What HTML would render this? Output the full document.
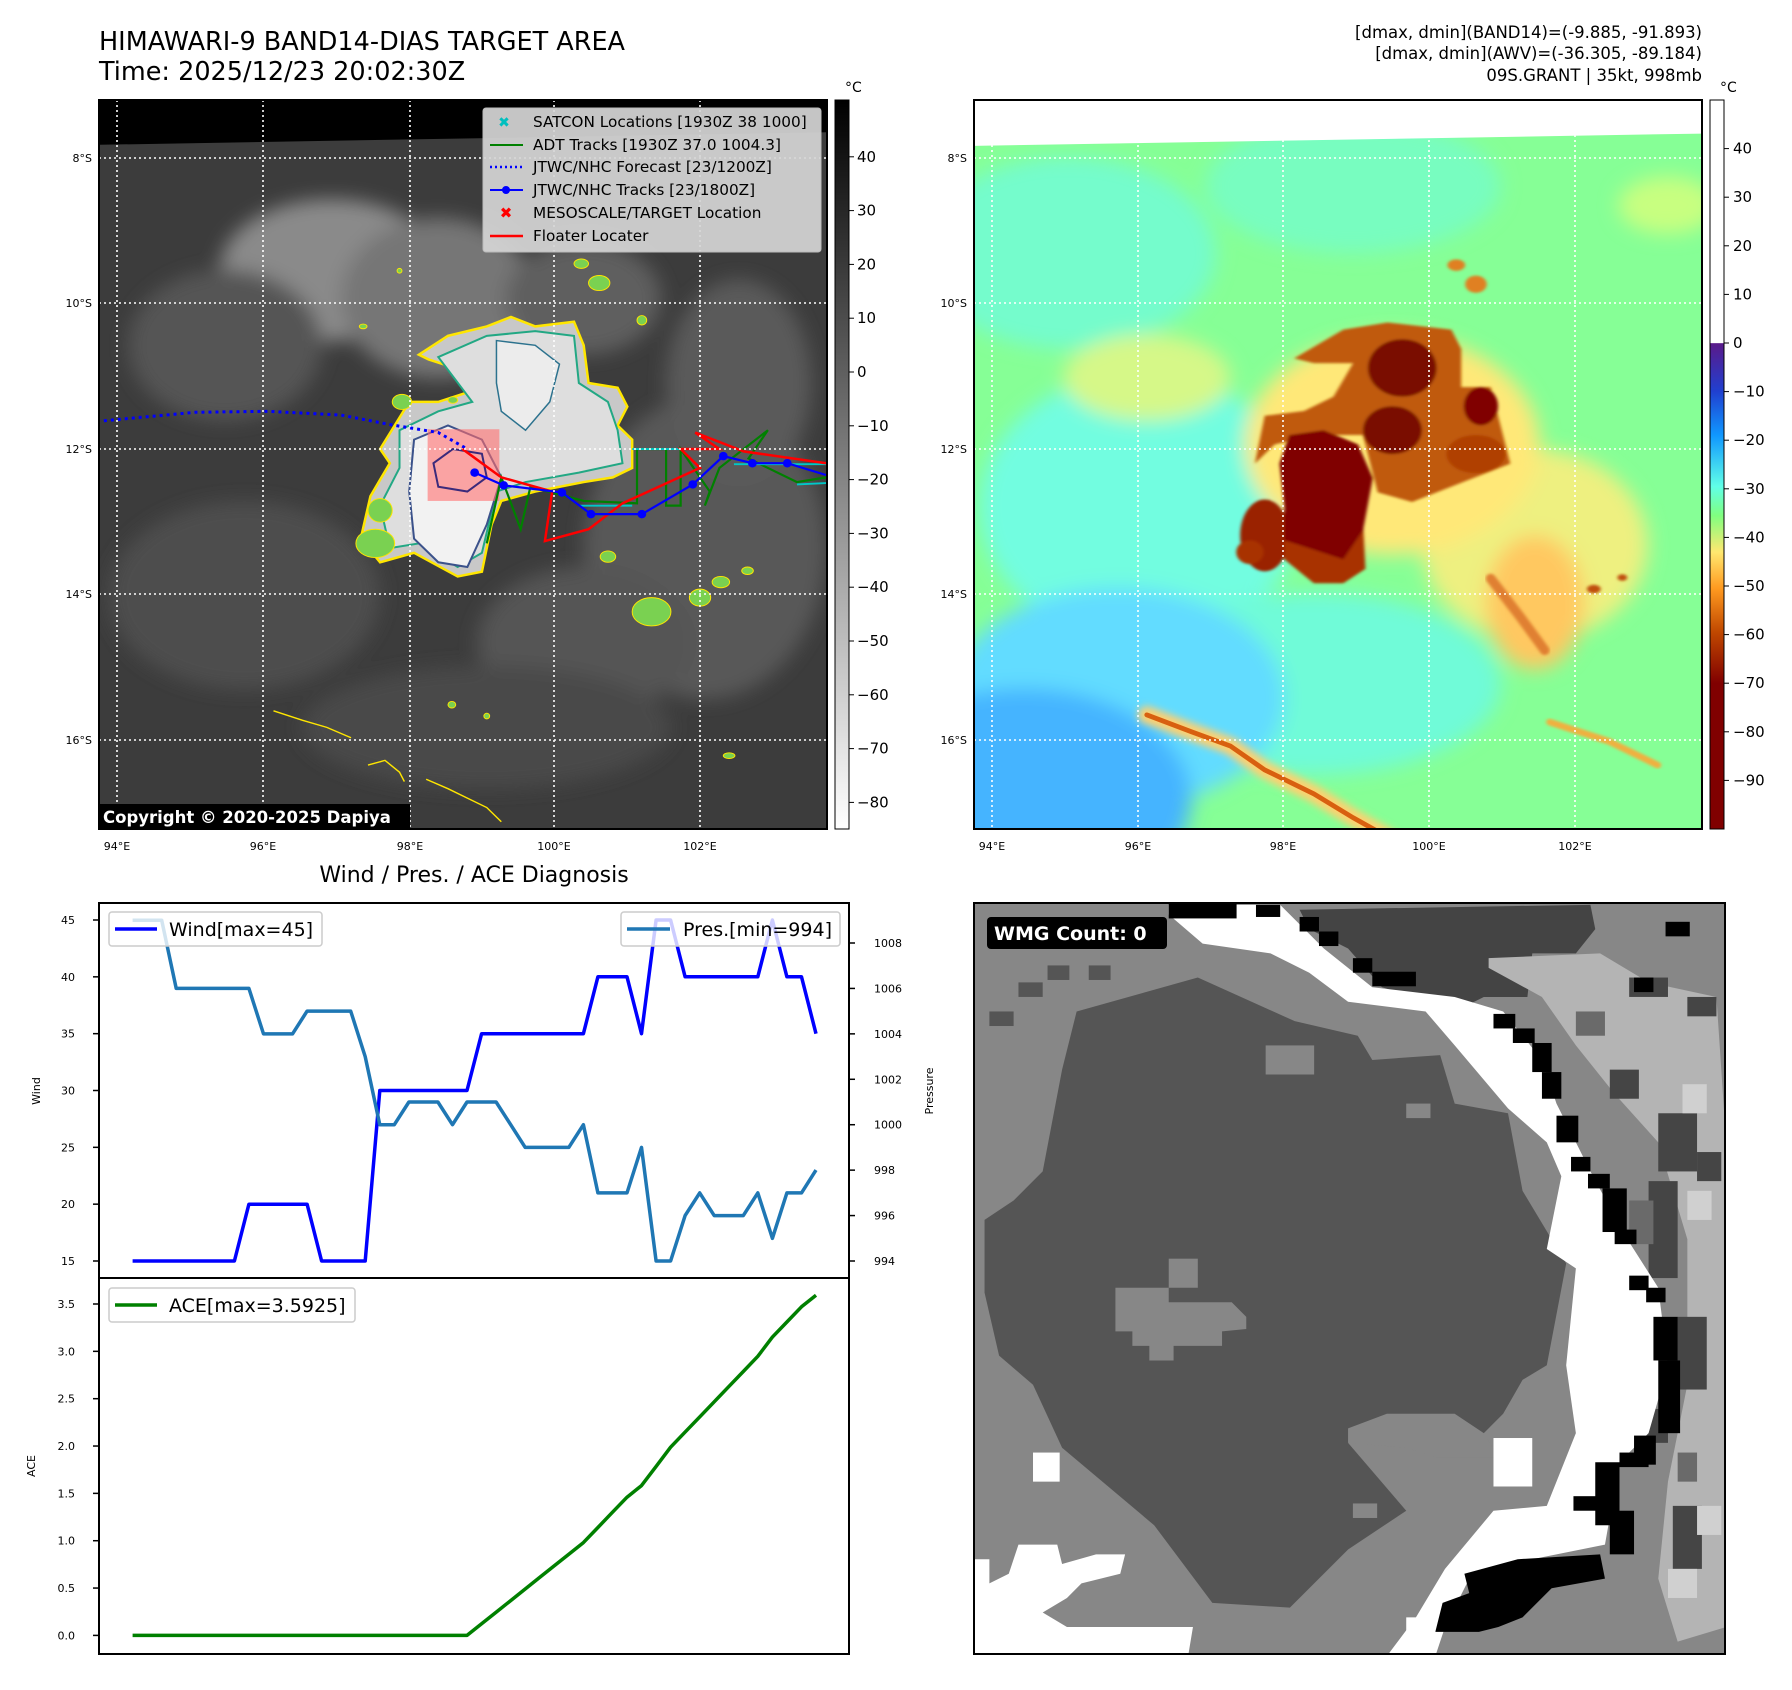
<!DOCTYPE html>
<html><head><meta charset="utf-8"><style>
html,body{margin:0;padding:0;background:#fff;}
svg{display:block;font-family:"DejaVu Sans","Liberation Sans",sans-serif;}
</style></head><body>
<svg id="fig" width="1792" height="1690" viewBox="0 0 1792 1690" xmlns="http://www.w3.org/2000/svg">
<defs>
<filter id="b8" x="-50%" y="-50%" width="200%" height="200%"><feGaussianBlur stdDeviation="8"/></filter>
<filter id="b20" x="-50%" y="-50%" width="200%" height="200%"><feGaussianBlur stdDeviation="20"/></filter>
<filter id="b3"><feGaussianBlur stdDeviation="3"/></filter>
<clipPath id="cTL"><rect x="99" y="100" width="728" height="729"/></clipPath>
<clipPath id="cTR"><rect x="974" y="100" width="728" height="729"/></clipPath>
<clipPath id="cBR"><rect x="974" y="903" width="751" height="751"/></clipPath>
<linearGradient id="gGray" x1="0" y1="0" x2="0" y2="1"><stop offset="0" stop-color="#000"/><stop offset="1" stop-color="#fff"/></linearGradient>
<linearGradient id="gCol" x1="0" y1="0" x2="0" y2="1">
<stop offset="0" stop-color="#fff"/><stop offset="0.333" stop-color="#fff"/><stop offset="0.334" stop-color="#5a1a8a"/>
<stop offset="0.4" stop-color="#2040d0"/><stop offset="0.46" stop-color="#1098ff"/><stop offset="0.53" stop-color="#60ffe8"/>
<stop offset="0.57" stop-color="#80ff80"/><stop offset="0.62" stop-color="#ffe870"/><stop offset="0.67" stop-color="#ff9a20"/>
<stop offset="0.73" stop-color="#c04800"/><stop offset="0.8" stop-color="#800000"/><stop offset="1" stop-color="#800000"/></linearGradient>
</defs>

<!-- Titles -->
<text x="99" y="50" font-size="25.5">HIMAWARI-9 BAND14-DIAS TARGET AREA</text>
<text x="99" y="80" font-size="25.5">Time: 2025/12/23 20:02:30Z</text>
<text x="1702" y="38" font-size="16.5" text-anchor="end">[dmax, dmin](BAND14)=(-9.885, -91.893)</text>
<text x="1702" y="59" font-size="16.5" text-anchor="end">[dmax, dmin](AWV)=(-36.305, -89.184)</text>
<text x="1702" y="81" font-size="16.5" text-anchor="end">09S.GRANT | 35kt, 998mb</text>

<!-- ===== Top-left IR map ===== -->
<g clip-path="url(#cTL)">
<g transform="translate(99,100) scale(0.4847,0.4717)">
<rect x="0" y="0" width="1520" height="1560" fill="#3c3c3c"/>
<g filter="url(#b20)">
<ellipse cx="480" cy="360" rx="230" ry="150" fill="#8a8a8a"/>
<ellipse cx="700" cy="420" rx="200" ry="170" fill="#767676"/>
<ellipse cx="260" cy="520" rx="200" ry="160" fill="#545454"/>
<ellipse cx="1250" cy="950" rx="250" ry="320" fill="#595959"/>
<ellipse cx="1000" cy="1150" rx="220" ry="160" fill="#555"/>
<ellipse cx="300" cy="1050" rx="280" ry="200" fill="#4d4d4d"/>
<ellipse cx="1320" cy="600" rx="150" ry="220" fill="#5a5a5a"/>
<ellipse cx="800" cy="1330" rx="380" ry="130" fill="#4a4a4a"/>
<ellipse cx="1000" cy="420" rx="160" ry="120" fill="#5e5e5e"/>
</g>
<polygon points="0,0 1520,0 1520,68 0,95" fill="#000"/>
<path d="M660,540 L720,500 L800,480 L850,460 L900,480 L980,470 L1000,520 L1010,600 L1070,610 L1090,650 L1070,690 L1100,720 L1100,780 L1060,800 L1000,810 L900,830 L830,850 L810,900 L790,1000 L740,1010 L650,960 L580,980 L540,930 L560,840 L600,770 L580,740 L610,690 L640,640 L700,640 L760,620 L770,580 L680,550 Z" fill="#c8c8c8" stroke="#ffe600" stroke-width="2.5" vector-effect="non-scaling-stroke"/>
<path d="M700,545 L800,500 L900,490 L980,500 L990,600 L1050,640 L1070,700 L1080,770 L990,790 L880,810 L820,830 L790,960 L740,990 L660,940 L600,950 L580,860 L620,780 L620,700 L700,660 L770,640 Z" fill="#dedede" stroke="#22a884" stroke-width="2" vector-effect="non-scaling-stroke"/>
<path d="M650,720 L720,690 L790,720 L830,800 L800,900 L760,990 L700,980 L650,930 L640,830 Z" fill="#f2f2f2" stroke="#3b528b" stroke-width="2" vector-effect="non-scaling-stroke"/>
<path d="M820,510 L900,520 L950,560 L930,640 L880,700 L830,660 L820,600 Z" fill="#ececec" stroke="#2c728e" stroke-width="1.5" vector-effect="non-scaling-stroke"/>
<rect x="678" y="698" width="148" height="152" fill="rgba(255,110,110,0.6)"/>
<path d="M690,770 L730,740 L790,750 L800,800 L760,830 L700,820 Z" fill="none" stroke="#3b2a7b" stroke-width="2" vector-effect="non-scaling-stroke"/>
<g fill="#7ad151" stroke="#ffe600" stroke-width="2" vector-effect="non-scaling-stroke">
<ellipse cx="995" cy="347" rx="15" ry="10"/><ellipse cx="1032" cy="388" rx="22" ry="16"/><ellipse cx="1120" cy="467" rx="10" ry="10"/>
<ellipse cx="625" cy="640" rx="20" ry="16"/><ellipse cx="730" cy="636" rx="10" ry="7"/><ellipse cx="1050" cy="968" rx="16" ry="12"/>
<ellipse cx="1283" cy="1022" rx="18" ry="12"/><ellipse cx="1338" cy="998" rx="12" ry="8"/><ellipse cx="1240" cy="1055" rx="22" ry="18"/>
<ellipse cx="1140" cy="1085" rx="40" ry="30"/><ellipse cx="545" cy="480" rx="8" ry="5"/><ellipse cx="620" cy="362" rx="5" ry="5"/>
<ellipse cx="728" cy="1282" rx="8" ry="7"/><ellipse cx="800" cy="1306" rx="6" ry="6"/><ellipse cx="1300" cy="1390" rx="12" ry="6"/>
<ellipse cx="570" cy="940" rx="40" ry="30"/><ellipse cx="580" cy="870" rx="25" ry="25"/>
</g>
<g fill="none" stroke="#ffe600" stroke-width="3" vector-effect="non-scaling-stroke">
<polyline points="360,1295 420,1315 470,1330 520,1352"/>
<polyline points="555,1410 590,1400 620,1425 630,1445"/>
<polyline points="675,1440 720,1460 760,1480 800,1500 830,1530"/>
</g>
<polyline points="10,680 200,662 350,660 500,668 600,688 700,705 760,740" fill="none" stroke="#0000ff" stroke-width="3" stroke-dasharray="3,4" vector-effect="non-scaling-stroke"/>
<polyline points="800,940 830,800 870,910 890,820 1000,850 1110,855 1110,740 1170,740 1170,860 1200,860 1200,740 1260,830 1250,860 1280,780 1380,700 1340,760 1440,810 1500,800" fill="none" stroke="#008000" stroke-width="2.2" vector-effect="non-scaling-stroke"/>
<g stroke="#00c8c8" stroke-width="4" vector-effect="non-scaling-stroke" fill="none">
<polyline points="1100,740 1280,740"/><polyline points="1310,772 1500,772"/><polyline points="1440,815 1500,812"/><polyline points="990,860 1100,860"/>
</g>
<polyline points="750,740 830,800 935,830 920,935 1010,910 1080,855 1240,780 1200,740 1280,740 1230,705 1330,745 1500,770" fill="none" stroke="#ff0000" stroke-width="2.5" vector-effect="non-scaling-stroke"/>
<polyline points="775,790 835,817 955,832 1015,878 1120,878 1225,815 1288,755 1348,770 1420,770 1500,795" fill="none" stroke="#0000ff" stroke-width="2.2" vector-effect="non-scaling-stroke"/>
<g fill="#0000ff"><ellipse cx="775" cy="790" rx="9" ry="9"/><ellipse cx="835" cy="817" rx="9" ry="9"/><ellipse cx="955" cy="832" rx="9" ry="9"/><ellipse cx="1015" cy="878" rx="9" ry="9"/><ellipse cx="1120" cy="878" rx="9" ry="9"/><ellipse cx="1225" cy="815" rx="9" ry="9"/><ellipse cx="1288" cy="755" rx="9" ry="9"/><ellipse cx="1348" cy="770" rx="9" ry="9"/><ellipse cx="1420" cy="770" rx="9" ry="9"/></g>
</g>
</g>
<g stroke="#fff" stroke-width="1.6" stroke-dasharray="2,3">
<line x1="117" y1="100" x2="117" y2="829"/><line x1="263" y1="100" x2="263" y2="829"/><line x1="410" y1="100" x2="410" y2="829"/><line x1="554" y1="100" x2="554" y2="829"/><line x1="700" y1="100" x2="700" y2="829"/>
<line x1="99" y1="158" x2="827" y2="158"/><line x1="99" y1="303" x2="827" y2="303"/><line x1="99" y1="449" x2="827" y2="449"/><line x1="99" y1="594" x2="827" y2="594"/><line x1="99" y1="740" x2="827" y2="740"/>
</g>
<rect x="99" y="804" width="311" height="25" fill="#000"/>
<text x="103" y="823" font-size="16.5" font-weight="bold" fill="#fff">Copyright © 2020-2025 Dapiya</text>
<rect x="99" y="100" width="728" height="729" fill="none" stroke="#000" stroke-width="2"/>
<!-- legend -->
<g>
<rect x="483" y="108" width="338" height="144" rx="3" fill="#d6d6d6" fill-opacity="0.92" stroke="#bbb"/>
<text x="504" y="127" font-size="14" fill="#00bfbf" font-weight="bold" text-anchor="middle">✖</text>
<text x="533" y="127" font-size="15.3">SATCON Locations [1930Z 38 1000]</text>
<line x1="490" y1="145" x2="523" y2="145" stroke="#008000" stroke-width="2"/>
<text x="533" y="150" font-size="15.3">ADT Tracks [1930Z 37.0 1004.3]</text>
<line x1="490" y1="167" x2="523" y2="167" stroke="#0000ff" stroke-width="2.5" stroke-dasharray="2,3"/>
<text x="533" y="172" font-size="15.3">JTWC/NHC Forecast [23/1200Z]</text>
<line x1="490" y1="190" x2="523" y2="190" stroke="#0000ff" stroke-width="2"/><circle cx="506" cy="190" r="4" fill="#0000ff"/>
<text x="533" y="195" font-size="15.3">JTWC/NHC Tracks [23/1800Z]</text>
<text x="506" y="218" font-size="15" fill="#ff0000" font-weight="bold" text-anchor="middle">✖</text>
<text x="533" y="218" font-size="15.3">MESOSCALE/TARGET Location</text>
<line x1="490" y1="236" x2="523" y2="236" stroke="#ff0000" stroke-width="2.5"/>
<text x="533" y="241" font-size="15.3">Floater Locater</text>
</g>
<!-- gray colorbar -->
<rect x="835" y="100" width="14" height="729" fill="url(#gGray)" stroke="#000" stroke-width="1"/>
<text x="845" y="92" font-size="14">°C</text>
<g id="cbL" font-size="15"></g>

<!-- ===== Top-right AWV map ===== -->
<g clip-path="url(#cTR)">
<g transform="translate(970,100) scale(0.4912,0.4785)">
<rect x="0" y="0" width="1520" height="1560" fill="#86ff96"/>
<g filter="url(#b20)">
<ellipse cx="200" cy="320" rx="300" ry="200" fill="#74fccc"/>
<ellipse cx="350" cy="850" rx="330" ry="280" fill="#72fde0"/>
<ellipse cx="700" cy="1220" rx="380" ry="190" fill="#70fbd8"/>
<ellipse cx="780" cy="180" rx="300" ry="140" fill="#78fdc0"/>
<ellipse cx="300" cy="1250" rx="340" ry="230" fill="#62dcff"/>
<ellipse cx="110" cy="1460" rx="340" ry="230" fill="#44b4ff"/>
<ellipse cx="1420" cy="220" rx="100" ry="60" fill="#c8ff80"/>
<ellipse cx="360" cy="580" rx="170" ry="90" fill="#d6f888"/>
<ellipse cx="1150" cy="930" rx="230" ry="200" fill="#eef080"/>
<ellipse cx="1150" cy="1050" rx="100" ry="140" fill="#ffc860"/>
<ellipse cx="860" cy="720" rx="300" ry="230" fill="#ffe878"/>
</g>
<polygon points="0,0 1500,0 1500,70 0,96" fill="#fff"/>
<g filter="url(#b3)">
<polygon points="660,540 760,480 850,465 980,480 1000,520 1000,600 1060,600 1080,680 1100,760 1000,800 900,840 830,820 800,700 700,700 620,720 580,760 600,660 680,650 740,620 780,550 700,550" fill="#c05a10"/>
<ellipse cx="880" cy="560" rx="70" ry="60" fill="#7a0a00"/>
<ellipse cx="860" cy="690" rx="60" ry="50" fill="#7a0a00"/>
<ellipse cx="1040" cy="640" rx="35" ry="40" fill="#800000"/>
<ellipse cx="1030" cy="740" rx="60" ry="40" fill="#b04000"/>
<ellipse cx="600" cy="910" rx="50" ry="75" fill="#9a2400"/>
<ellipse cx="570" cy="945" rx="28" ry="25" fill="#a83000"/>
<polygon points="640,880 720,900 800,880 805,980 760,1010 700,1010 640,960" fill="#a83000"/>
<polygon points="650,700 720,690 790,720 820,790 800,900 760,960 700,940 640,920 640,850 630,760" fill="#800000"/>
<ellipse cx="990" cy="345" rx="18" ry="12" fill="#e08020"/><ellipse cx="1030" cy="385" rx="22" ry="18" fill="#e08020"/>
<ellipse cx="1270" cy="1022" rx="14" ry="9" fill="#c05010"/><ellipse cx="1328" cy="998" rx="10" ry="7" fill="#c05010"/>
</g>
<g fill="none" stroke-linecap="round">
<polyline points="360,1285 450,1320 530,1350 600,1400 700,1450 780,1500 850,1540" stroke="#ffd070" stroke-width="36" filter="url(#b8)"/>
<polyline points="360,1285 450,1320 530,1350 600,1400 700,1450 780,1500 850,1540" stroke="#d86010" stroke-width="10"/>
<polyline points="1060,1000 1120,1080 1170,1150" stroke="#e08030" stroke-width="20" filter="url(#b3)"/>
<polyline points="1180,1300 1300,1340 1400,1390" stroke="#f0b040" stroke-width="14" filter="url(#b3)"/>
</g>
</g>
</g>
<g stroke="#fff" stroke-width="1.6" stroke-dasharray="2,3">
<line x1="992" y1="100" x2="992" y2="829"/><line x1="1138" y1="100" x2="1138" y2="829"/><line x1="1283" y1="100" x2="1283" y2="829"/><line x1="1429" y1="100" x2="1429" y2="829"/><line x1="1575" y1="100" x2="1575" y2="829"/>
<line x1="974" y1="158" x2="1702" y2="158"/><line x1="974" y1="303" x2="1702" y2="303"/><line x1="974" y1="449" x2="1702" y2="449"/><line x1="974" y1="594" x2="1702" y2="594"/><line x1="974" y1="740" x2="1702" y2="740"/>
</g>
<rect x="974" y="100" width="728" height="729" fill="none" stroke="#000" stroke-width="2"/>
<rect x="1710" y="100" width="14" height="729" fill="url(#gCol)" stroke="#000" stroke-width="1"/>
<text x="1720" y="92" font-size="14">°C</text>
<g id="cbR" font-size="15"></g>
<g id="mapTicks" font-size="11"></g>

<!-- ===== Wind / Pressure chart ===== -->
<text x="474" y="882" font-size="22" text-anchor="middle">Wind / Pres. / ACE Diagnosis</text>
<g id="windChart"></g>
<g id="aceChart"></g>
<text transform="translate(40,1091) rotate(-90)" font-size="11" text-anchor="middle">Wind</text>
<text transform="translate(933,1091) rotate(-90)" font-size="11" text-anchor="middle">Pressure</text>
<text transform="translate(35,1466) rotate(-90)" font-size="11" text-anchor="middle">ACE</text>

<!-- ===== WMG panel ===== -->
<g clip-path="url(#cBR)">
<g transform="translate(970,900) scale(0.4847)">
<rect x="0" y="0" width="1600" height="1600" fill="#878787"/>
<polygon points="680,20 1280,10 1290,60 1250,110 1160,110 1150,200 1060,200 1000,230 920,200 850,180 780,100 700,60" fill="#444"/>
<polygon points="1070,120 1300,110 1400,170 1540,200 1560,500 1560,1500 1460,1530 1420,1400 1440,1200 1480,1000 1480,700 1420,500 1330,400 1250,300 1180,200 1070,140" fill="#b4b4b4"/>
<g fill="#454545"><rect x="1420" y="440" width="80" height="120"/><rect x="1400" y="580" width="60" height="200"/><rect x="1460" y="860" width="60" height="150"/><rect x="1450" y="1250" width="60" height="130"/><rect x="1360" y="160" width="80" height="40"/><rect x="1480" y="200" width="60" height="40"/><rect x="1320" y="350" width="60" height="60"/><rect x="1500" y="520" width="50" height="60"/><rect x="1380" y="1050" width="60" height="70"/></g>
<g fill="#6a6a6a"><rect x="1360" y="620" width="50" height="90"/><rect x="1460" y="1140" width="40" height="60"/><rect x="1250" y="230" width="60" height="50"/></g>
<polygon points="220,230 470,160 670,250 800,280 830,330 970,320 1000,420 1110,440 1140,600 1230,750 1190,960 1140,990 1100,1060 1040,1120 1000,1100 780,1120 900,1260 780,1340 660,1460 500,1450 380,1290 190,1130 130,1000 60,940 30,810 30,660 90,620 150,560 190,350" fill="#555"/>
<g fill="#878787"><rect x="410" y="740" width="60" height="60"/><polygon points="300,800 410,800 410,830 540,830 570,860 570,885 520,890 520,920 420,920 420,950 370,950 370,920 335,920 335,890 300,890"/><rect x="610" y="300" width="100" height="60"/><rect x="900" y="420" width="50" height="30"/><rect x="790" y="1245" width="50" height="30"/><polygon points="780,1090 860,1060 1000,1060 1060,1100 1090,1150 960,1150 900,1130 780,1120"/></g>
<g fill="#555"><rect x="160" y="135" width="45" height="30"/><rect x="245" y="135" width="45" height="30"/><rect x="100" y="170" width="50" height="30"/><rect x="40" y="230" width="50" height="30"/></g>
<polygon points="410,10 640,10 730,100 830,180 1000,200 1100,230 1180,330 1210,420 1280,560 1350,690 1420,800 1440,960 1400,1100 1340,1160 1310,1330 1160,1360 1030,1400 980,1500 960,1560 860,1560 920,1480 980,1380 1080,1260 1190,1250 1250,1100 1230,960 1250,760 1190,720 1220,570 1190,500 1110,430 1000,300 940,230 780,210 700,150 620,110 480,90 410,30" fill="#fff"/>
<g fill="#000">
<rect x="410" y="8" width="140" height="30"/><rect x="590" y="10" width="50" height="25"/><rect x="680" y="35" width="40" height="30"/><rect x="720" y="65" width="40" height="30"/><rect x="790" y="120" width="40" height="30"/><rect x="830" y="148" width="90" height="30"/>
<rect x="1080" y="235" width="45" height="30"/><rect x="1120" y="265" width="45" height="30"/><rect x="1160" y="295" width="40" height="60"/><rect x="1180" y="355" width="40" height="55"/><rect x="1210" y="445" width="45" height="55"/><rect x="1240" y="530" width="40" height="30"/><rect x="1275" y="565" width="45" height="30"/><rect x="1305" y="595" width="50" height="90"/><rect x="1330" y="680" width="45" height="30"/><rect x="1360" y="775" width="40" height="30"/><rect x="1395" y="800" width="40" height="30"/><rect x="1410" y="860" width="50" height="90"/><rect x="1420" y="950" width="45" height="150"/><rect x="1370" y="1105" width="45" height="60"/><rect x="1340" y="1140" width="60" height="30"/><rect x="1290" y="1160" width="50" height="130"/><rect x="1245" y="1230" width="50" height="30"/><rect x="1320" y="1260" width="50" height="90"/><rect x="1435" y="45" width="50" height="30"/><rect x="1370" y="160" width="40" height="30"/>
<polygon points="1020,1390 1130,1360 1300,1350 1310,1400 1200,1420 1140,1480 1090,1500 1050,1510 960,1510 975,1450 1030,1430"/>
<rect x="0" y="1510" width="40" height="50"/>
</g>
<g fill="#fff"><polygon points="10,1360 40,1360 40,1410 80,1390 100,1330 180,1330 190,1370 260,1350 320,1350 310,1390 230,1410 200,1440 150,1470 200,1500 460,1500 450,1560 10,1560"/><rect x="130" y="1140" width="55" height="60"/><rect x="900" y="1480" width="60" height="70"/><rect x="1080" y="1110" width="80" height="100"/></g>
<g fill="#d0d0d0"><rect x="1440" y="1380" width="60" height="60"/><rect x="1500" y="1250" width="50" height="60"/><rect x="1480" y="600" width="50" height="60"/><rect x="1470" y="380" width="50" height="60"/></g>
</g>
</g>
<rect x="974" y="903" width="751" height="751" fill="none" stroke="#000" stroke-width="2"/>
<rect x="987" y="917" width="180" height="32" rx="4" fill="#000"/>
<text x="994" y="940" font-size="19" font-weight="bold" fill="#fff">WMG Count: 0</text>
</svg>

<script>
// ---- chart data ----
var wind = [15,15,15,15,15,15,15,15,20,20,20,20,20,15,15,15,15,30,30,30,30,30,30,30,35,35,35,35,35,35,35,35,40,40,40,35,45,45,40,40,40,40,40,40,45,40,40,35];
var pres = [1009,1009,1009,1006,1006,1006,1006,1006,1006,1004,1004,1004,1005,1005,1005,1005,1003,1000,1000,1001,1001,1001,1000,1001,1001,1001,1000,999,999,999,999,1000,997,997,997,999,994,994,996,997,996,996,996,997,995,997,997,998];
var windTicks = [15,20,25,30,35,40,45];
var presTicks = [994,996,998,1000,1002,1004,1006,1008];
var aceTicks = [0.0,0.5,1.0,1.5,2.0,2.5,3.0,3.5];
var cbLTicks = [40,30,20,10,0,-10,-20,-30,-40,-50,-60,-70,-80];
var cbRTicks = [40,30,20,10,0,-10,-20,-30,-40,-50,-60,-70,-80,-90];
var latLabels = ["8°S","10°S","12°S","14°S","16°S"];
var lonLabels = ["94°E","96°E","98°E","100°E","102°E"];

var NS = "http://www.w3.org/2000/svg";
function mk(tag, attrs, parent){var e=document.createElementNS(NS,tag);for(var k in attrs)e.setAttribute(k,attrs[k]);parent.appendChild(e);return e;}
function fmt(v){return (v<0?"\u2212"+Math.abs(v):""+v);}

var ace=[];var acc=0;
for(var i=0;i<wind.length;i++){ if(wind[i]>=35) acc+=wind[i]*wind[i]/10000; ace.push(acc); }

var n = wind.length;
function xS(i){return 132.6 + i*(816-132.6)/(n-1);}
function yW(v){return 1261 - (v-15)*(1261-920)/30;}
function yP(v){return 1261 - (v-994)*(1261-943)/14;}
function yA(v){return 1635.4 - v*(1635.4-1304)/3.5;}

var wc=document.getElementById("windChart");
var r=mk("rect",{x:99,y:903,width:750,height:375,fill:"#fff",stroke:"#000","stroke-width":2},wc);


windTicks.forEach(function(v){
  var t=mk("line",{x1:93,y1:yW(v),x2:99,y2:yW(v),stroke:"#000","stroke-width":1.5},wc);
  
  
  var l=mk("text",{x:75,y:yW(v)+4,"font-size":11,"text-anchor":"end"},wc);l.textContent=v;
  
  
});
presTicks.forEach(function(v){
  var t=mk("line",{x1:849,y1:yP(v),x2:855,y2:yP(v),stroke:"#000","stroke-width":1.5},wc);
  
  
  var l=mk("text",{x:874,y:yP(v)+4,"font-size":11},wc);l.textContent=v;
  
  
});
var wp=wind.map(function(v,i){return xS(i).toFixed(1)+","+yW(v).toFixed(1);}).join(" ");
var wl=mk("polyline",{points:wp,fill:"none",stroke:"#0000ff","stroke-width":3.5,"stroke-linejoin":"round"},wc);


var pp=pres.map(function(v,i){return xS(i).toFixed(1)+","+yP(v).toFixed(1);}).join(" ");
var pl=mk("polyline",{points:pp,fill:"none",stroke:"#1f77b4","stroke-width":3.5,"stroke-linejoin":"round"},wc);


var wmax=Math.max.apply(null,wind), pmin=Math.min.apply(null,pres);
var lg1=mk("g",{},wc);


mk("rect",{x:109,y:912,width:213,height:34,rx:3,fill:"#fff","fill-opacity":0.8,stroke:"#ccc","stroke-width":1.5},lg1);
mk("line",{x1:115,y1:929,x2:157,y2:929,stroke:"#0000ff","stroke-width":3.5},lg1);
var t1=mk("text",{x:169,y:936,"font-size":19},lg1);t1.textContent="Wind[max="+wmax+"]";
var lg2=mk("g",{},wc);


mk("rect",{x:621,y:912,width:219,height:34,rx:3,fill:"#fff","fill-opacity":0.8,stroke:"#ccc","stroke-width":1.5},lg2);
mk("line",{x1:627,y1:929,x2:670,y2:929,stroke:"#1f77b4","stroke-width":3.5},lg2);
var t2=mk("text",{x:683,y:936,"font-size":19},lg2);t2.textContent="Pres.[min="+pmin+"]";

var ac=document.getElementById("aceChart");
var r2=mk("rect",{x:99,y:1278,width:750,height:376,fill:"#fff",stroke:"#000","stroke-width":2},ac);


aceTicks.forEach(function(v){
  var t=mk("line",{x1:93,y1:yA(v),x2:99,y2:yA(v),stroke:"#000","stroke-width":1.5},ac);
  
  
  var l=mk("text",{x:75,y:yA(v)+4,"font-size":11,"text-anchor":"end"},ac);l.textContent=v.toFixed(1);
  
  
});
var ap=ace.map(function(v,i){return xS(i).toFixed(1)+","+yA(v).toFixed(1);}).join(" ");
var al=mk("polyline",{points:ap,fill:"none",stroke:"#008000","stroke-width":3.5,"stroke-linejoin":"round"},ac);


var lg3=mk("g",{},ac);


mk("rect",{x:109,y:1288,width:246,height:34,rx:3,fill:"#fff","fill-opacity":0.8,stroke:"#ccc","stroke-width":1.5},lg3);
mk("line",{x1:115,y1:1305,x2:157,y2:1305,stroke:"#008000","stroke-width":3.5},lg3);
var t3=mk("text",{x:169,y:1312,"font-size":19},lg3);t3.textContent="ACE[max="+(Math.round(acc*10000)/10000)+"]";

var cl=document.getElementById("cbL");
cbLTicks.forEach(function(v){var y=103+(50-v)*5.38;
  var t=mk("line",{x1:849,y1:y,x2:854,y2:y,stroke:"#000"},cl);
  
  
  var l=mk("text",{x:857,y:y+5},cl);l.textContent=fmt(v);
  
  });
var cr=document.getElementById("cbR");
cbRTicks.forEach(function(v){var y=100+(50-v)*4.86;
  var t=mk("line",{x1:1724,y1:y,x2:1729,y2:y,stroke:"#000"},cr);
  
  
  var l=mk("text",{x:1733,y:y+5},cr);l.textContent=fmt(v);
  
  });

var mt=document.getElementById("mapTicks");
var latY=[158,303,449,594,740], lonXL=[117,263,410,554,700], lonXR=[992,1138,1283,1429,1575];
latLabels.forEach(function(s,i){
  var a=mk("text",{x:92,y:latY[i]+4,"text-anchor":"end"},mt);a.textContent=s;
  
  
  var b=mk("text",{x:967,y:latY[i]+4,"text-anchor":"end"},mt);b.textContent=s;
  
  
});
lonLabels.forEach(function(s,i){
  var a=mk("text",{x:lonXL[i],y:850,"text-anchor":"middle"},mt);a.textContent=s;
  
  
  var b=mk("text",{x:lonXR[i],y:850,"text-anchor":"middle"},mt);b.textContent=s;
  
  
});
</script>
</body></html>
